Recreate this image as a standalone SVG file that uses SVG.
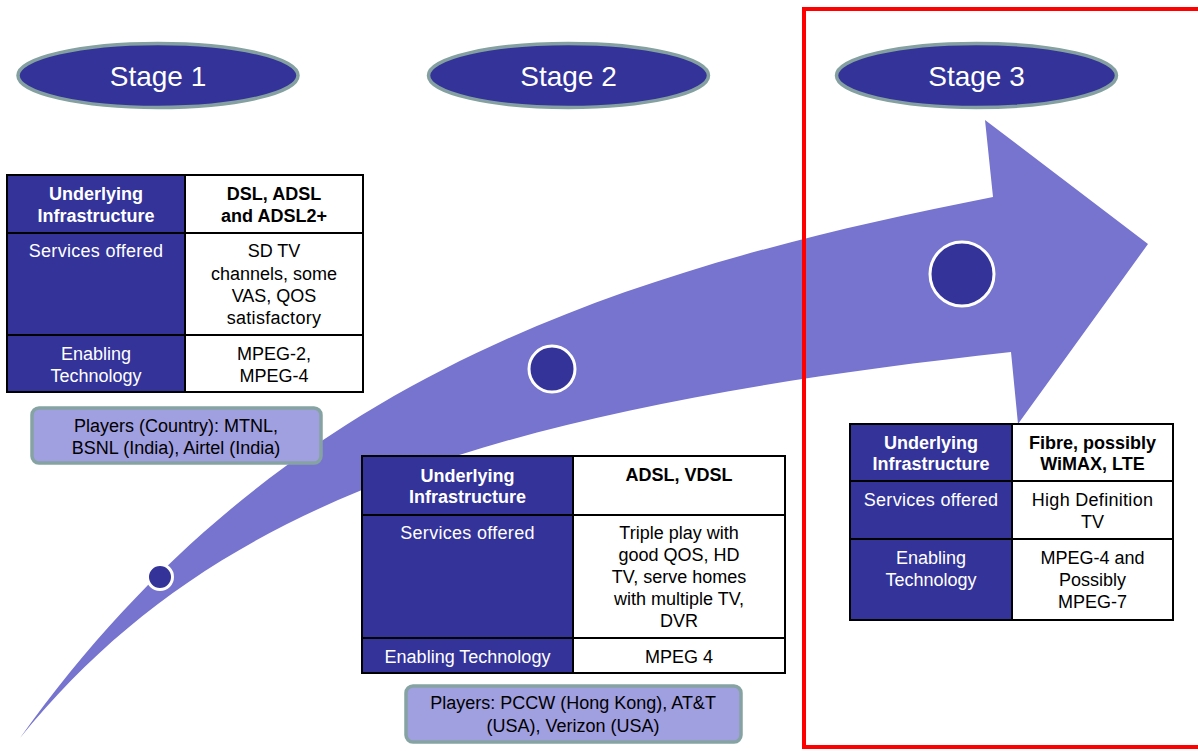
<svg xmlns="http://www.w3.org/2000/svg" width="1198" height="751" viewBox="0 0 1198 751">
<style>
text{font-family:"Liberation Sans",Arial,sans-serif;font-size:18px;text-anchor:middle}
.stage{fill:#333399;stroke:#85a0a0;stroke-width:3.5}
.stxt{fill:#ffffff;font-size:28px}
.hd{fill:#333399;stroke:#000;stroke-width:2}
.cell{fill:#ffffff;stroke:#000;stroke-width:2}
.w{fill:#ffffff}
.wb{fill:#ffffff;font-weight:bold}
.k{fill:#000000}
.kb{fill:#000000;font-weight:bold}
.pl{fill:#a09fdf;stroke:#86a3a3;stroke-width:3.5}
.dot{fill:#333399;stroke:#ffffff;stroke-width:3}
.ls{letter-spacing:0.3px}
</style>
<rect width="1198" height="751" fill="#ffffff"/>
<g id="arrow">
<path d="M20,738 C274,382 607,273 993,197 L985,120 L1148,244 L1018,424 L1011,352 C483,410 208,506 20,738 Z" fill="#7674cf"/>
<circle class="dot" cx="160" cy="577" r="12.5"/>
<circle class="dot" cx="552" cy="369" r="23"/>
<circle class="dot" cx="962" cy="274" r="32"/>
</g>
<g id="stage1">
<ellipse class="stage" cx="158" cy="75.5" rx="140" ry="32"/>
<text class="stxt" x="158" y="86">Stage 1</text>
</g>
<g id="stage2">
<ellipse class="stage" cx="568.5" cy="75.5" rx="140" ry="32"/>
<text class="stxt" x="568.5" y="86">Stage 2</text>
</g>
<g id="stage3">
<ellipse class="stage" cx="976.5" cy="75.5" rx="140" ry="32"/>
<text class="stxt" x="976.5" y="86">Stage 3</text>
</g>
<g id="table1">
<rect class="hd" x="7" y="175" width="178" height="217"/>
<rect class="cell" x="185" y="175" width="178" height="58"/>
<rect class="cell" x="185" y="233" width="178" height="102"/>
<rect class="cell" x="185" y="335" width="178" height="57"/>
<line x1="7" y1="233" x2="185" y2="233" stroke="#000" stroke-width="2"/>
<line x1="7" y1="335" x2="185" y2="335" stroke="#000" stroke-width="2"/>
<text class="wb" x="96" y="200">Underlying</text>
<text class="wb" x="96" y="222">Infrastructure</text>
<text class="kb" x="274" y="200">DSL, ADSL</text>
<text class="kb" x="274" y="222">and ADSL2+</text>
<text class="w ls" x="96" y="257">Services offered</text>
<text class="k" x="274" y="257">SD TV</text>
<text class="k" x="274" y="280">channels, some</text>
<text class="k" x="274" y="302">VAS, QOS</text>
<text class="k ls" x="274" y="324">satisfactory</text>
<text class="w" x="96" y="360">Enabling</text>
<text class="w" x="96" y="382">Technology</text>
<text class="k" x="274" y="360">MPEG-2,</text>
<text class="k" x="274" y="382">MPEG-4</text>
</g>
<g id="players1">
<rect class="pl" x="32" y="408" width="289" height="55" rx="7"/>
<text class="k" x="176" y="432">Players (Country): MTNL,</text>
<text class="k" x="176" y="454">BSNL (India), Airtel (India)</text>
</g>
<g id="table2">
<rect class="hd" x="362" y="456" width="211" height="217"/>
<rect class="cell" x="573" y="456" width="212" height="59"/>
<rect class="cell" x="573" y="515" width="212" height="123"/>
<rect class="cell" x="573" y="638" width="212" height="35"/>
<line x1="362" y1="515" x2="573" y2="515" stroke="#000" stroke-width="2"/>
<line x1="362" y1="638" x2="573" y2="638" stroke="#000" stroke-width="2"/>
<text class="wb" x="467.5" y="482">Underlying</text>
<text class="wb" x="467.5" y="503">Infrastructure</text>
<text class="kb" x="679" y="481">ADSL, VDSL</text>
<text class="w ls" x="467.5" y="539">Services offered</text>
<text class="k" x="679" y="539">Triple play with</text>
<text class="k" x="679" y="561">good QOS, HD</text>
<text class="k" x="679" y="583">TV, serve homes</text>
<text class="k" x="679" y="605">with multiple TV,</text>
<text class="k" x="679" y="627">DVR</text>
<text class="w" x="467.5" y="663">Enabling Technology</text>
<text class="k" x="679" y="663">MPEG 4</text>
</g>
<g id="players2">
<rect class="pl" x="406" y="686" width="335" height="56" rx="7"/>
<text class="k" x="573" y="709">Players: PCCW (Hong Kong), AT&amp;T</text>
<text class="k" x="573" y="732">(USA), Verizon (USA)</text>
</g>
<g id="table3">
<rect class="hd" x="850" y="424" width="162" height="196"/>
<rect class="cell" x="1012" y="424" width="161" height="57"/>
<rect class="cell" x="1012" y="481" width="161" height="58"/>
<rect class="cell" x="1012" y="539" width="161" height="81"/>
<line x1="850" y1="481" x2="1012" y2="481" stroke="#000" stroke-width="2"/>
<line x1="850" y1="539" x2="1012" y2="539" stroke="#000" stroke-width="2"/>
<text class="wb" x="931" y="449">Underlying</text>
<text class="wb" x="931" y="470">Infrastructure</text>
<text class="kb" x="1092.5" y="449">Fibre, possibly</text>
<text class="kb" x="1092.5" y="470">WiMAX, LTE</text>
<text class="w ls" x="931" y="506">Services offered</text>
<text class="k ls" x="1092.5" y="506">High Definition</text>
<text class="k" x="1092.5" y="528">TV</text>
<text class="w" x="931" y="564">Enabling</text>
<text class="w" x="931" y="586">Technology</text>
<text class="k" x="1092.5" y="564">MPEG-4 and</text>
<text class="k" x="1092.5" y="586">Possibly</text>
<text class="k" x="1092.5" y="608">MPEG-7</text>
</g>
<g id="highlight">
<rect x="804" y="9" width="400" height="738" fill="none" stroke="#ff0000" stroke-width="4"/>
</g>
</svg>
